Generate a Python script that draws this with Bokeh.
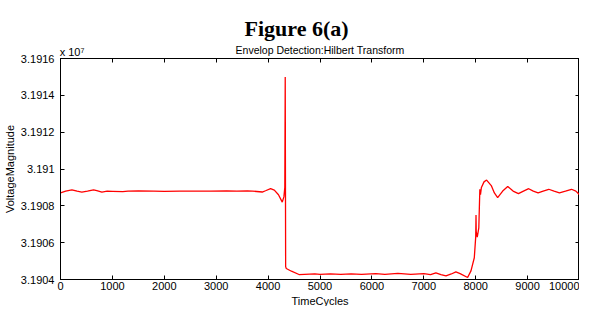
from bokeh.plotting import figure
from bokeh.models import LinearAxis, FixedTicker, Range1d, CustomLabelingPolicy, Title
from bokeh.embed import file_html
from bokeh.resources import INLINE

# ---- data (voltage in units of 1e7) ----
time_cycles = [0, 100, 220, 320, 411, 520, 637, 700, 797, 900, 1000, 1200, 1300, 1500,
               1800, 2000, 2300, 2600, 2900, 3200, 3400, 3600, 3700, 3887, 3950, 4048,
               4120, 4200, 4273, 4305, 4322, 4330, 4338, 4350, 4450, 4595, 4700, 4900,
               5000, 5200, 5400, 5600, 5800, 6075, 6250, 6500, 6750, 7000, 7130, 7233,
               7330, 7427, 7530, 7618, 7700, 7844, 7909, 7973, 8000, 8006, 8010, 8030,
               8060, 8080, 8092, 8110, 8160, 8210, 8300, 8360, 8423, 8520, 8617, 8720,
               8823, 8920, 9021, 9110, 9202, 9300, 9407, 9510, 9614, 9730, 9846, 9930, 10000]
voltage = [3.190871, 3.190880, 3.190887, 3.190880, 3.190875, 3.190880, 3.190887, 3.190883,
           3.190875, 3.190880, 3.190879, 3.190877, 3.190880, 3.190881, 3.190880, 3.190879,
           3.190880, 3.190880, 3.190880, 3.190881, 3.190880, 3.190881, 3.190880, 3.190875,
           3.190882, 3.190893, 3.190885, 3.190860, 3.190820, 3.190850, 3.190900, 3.191500,
           3.190470, 3.190460, 3.190445, 3.190427, 3.190428, 3.190430, 3.190428, 3.190431,
           3.190428, 3.190431, 3.190428, 3.190432, 3.190428, 3.190433, 3.190428, 3.190432,
           3.190427, 3.190436, 3.190426, 3.190420, 3.190430, 3.190441, 3.190432, 3.190411,
           3.190447, 3.190518, 3.190630, 3.190750, 3.190660, 3.190630, 3.190680, 3.190890,
           3.190860, 3.190900, 3.190930, 3.190940, 3.190910, 3.190870, 3.190845, 3.190880,
           3.190905, 3.190880, 3.190866, 3.190880, 3.190893, 3.190880, 3.190870, 3.190880,
           3.190890, 3.190880, 3.190871, 3.190880, 3.190890, 3.190880, 3.190860]

x_ticks = [0, 1000, 2000, 3000, 4000, 5000, 6000, 7000, 8000, 9000, 10000]
y_ticks = [3.1904, 3.1906, 3.1908, 3.191, 3.1912, 3.1914, 3.1916]
y_tick_labels = ["3.1904", "3.1906", "3.1908", "3.191", "3.1912", "3.1914", "3.1916"]

fig_title = "Figure 6(a)"
plot_title = "Envelop Detection:Hilbert Transform"
x_label = "TimeCycles"
y_label = "VoltageMagnitude"
exponent_text = "x 10\u2077"

FONT = "Liberation Sans"

p = figure(width=579, height=306, output_backend="svg", toolbar_location=None,
           x_range=Range1d(0, 10000), y_range=Range1d(3.1904, 3.1916),
           min_border_left=54, min_border_right=0, min_border_top=58, min_border_bottom=24)
p.background_fill_color = "white"
p.border_fill_color = "white"
p.grid.visible = False
p.outline_line_color = "black"
p.outline_line_width = 1

for ax in (p.xaxis[0], p.yaxis[0]):
    ax.major_tick_in = 4
    ax.major_tick_out = 0
    ax.minor_tick_line_color = None
    ax.axis_line_color = "black"
    ax.major_tick_line_color = "black"
    ax.major_label_text_font = FONT
    ax.major_label_text_font_size = "11px"
    ax.major_label_text_color = "black"
    ax.axis_label_text_font = FONT
    ax.axis_label_text_font_size = "11px"
    ax.axis_label_text_font_style = "normal"
    ax.axis_label_text_color = "black"

p.xaxis[0].ticker = FixedTicker(ticks=x_ticks)
p.xaxis[0].major_label_standoff = 2
p.yaxis[0].ticker = FixedTicker(ticks=y_ticks)
p.yaxis[0].major_label_overrides = {t: l for t, l in zip(y_ticks, y_tick_labels)}
p.yaxis[0].major_label_standoff = 6
p.yaxis[0].axis_label = y_label
p.yaxis[0].axis_label_standoff = 2

p.add_layout(Title(text=x_label, align="center", text_font=FONT, text_font_size="11px",
                   text_font_style="normal", text_color="black", standoff=0), "below")

no_labels = CustomLabelingPolicy(code="return new Set()")

top_ax = LinearAxis(ticker=FixedTicker(ticks=x_ticks), major_tick_in=4, major_tick_out=0,
                    minor_tick_line_color=None, major_label_text_font_size="0px",
                    major_label_standoff=0, major_label_policy=no_labels)
right_ax = LinearAxis(ticker=FixedTicker(ticks=y_ticks), major_tick_in=4, major_tick_out=0,
                      minor_tick_line_color=None, major_label_text_font_size="0px",
                      major_label_standoff=0, major_label_policy=no_labels)
p.add_layout(top_ax, "above")
p.add_layout(right_ax, "right")

# a tick-less top axis that carries the exponent note and the axes title
note_ax = LinearAxis(ticker=FixedTicker(ticks=[222]), major_tick_in=0, major_tick_out=0,
                     axis_line_color=None, major_tick_line_color=None,
                     minor_tick_line_color=None,
                     major_label_overrides={222: exponent_text},
                     major_label_text_font=FONT, major_label_text_font_size="11px",
                     major_label_text_color="black", major_label_standoff=1,
                     axis_label=plot_title, axis_label_text_font=FONT,
                     axis_label_text_font_size="10.5px", axis_label_text_font_style="normal",
                     axis_label_text_color="black", axis_label_standoff=-13)
p.add_layout(note_ax, "above")

# invisible gap, then the page title
p.add_layout(Title(text=".", text_font_size="1px", text_color=None, standoff=18), "above")
p.add_layout(Title(text=fig_title, align="left", offset=184, standoff=0,
                   text_font="Liberation Serif", text_font_size="22px",
                   text_font_style="bold", text_color="black"), "above")

p.line(time_cycles, voltage, line_color="#ff0000", line_width=1.3)

open("out.html", "w").write(file_html(p, INLINE))
